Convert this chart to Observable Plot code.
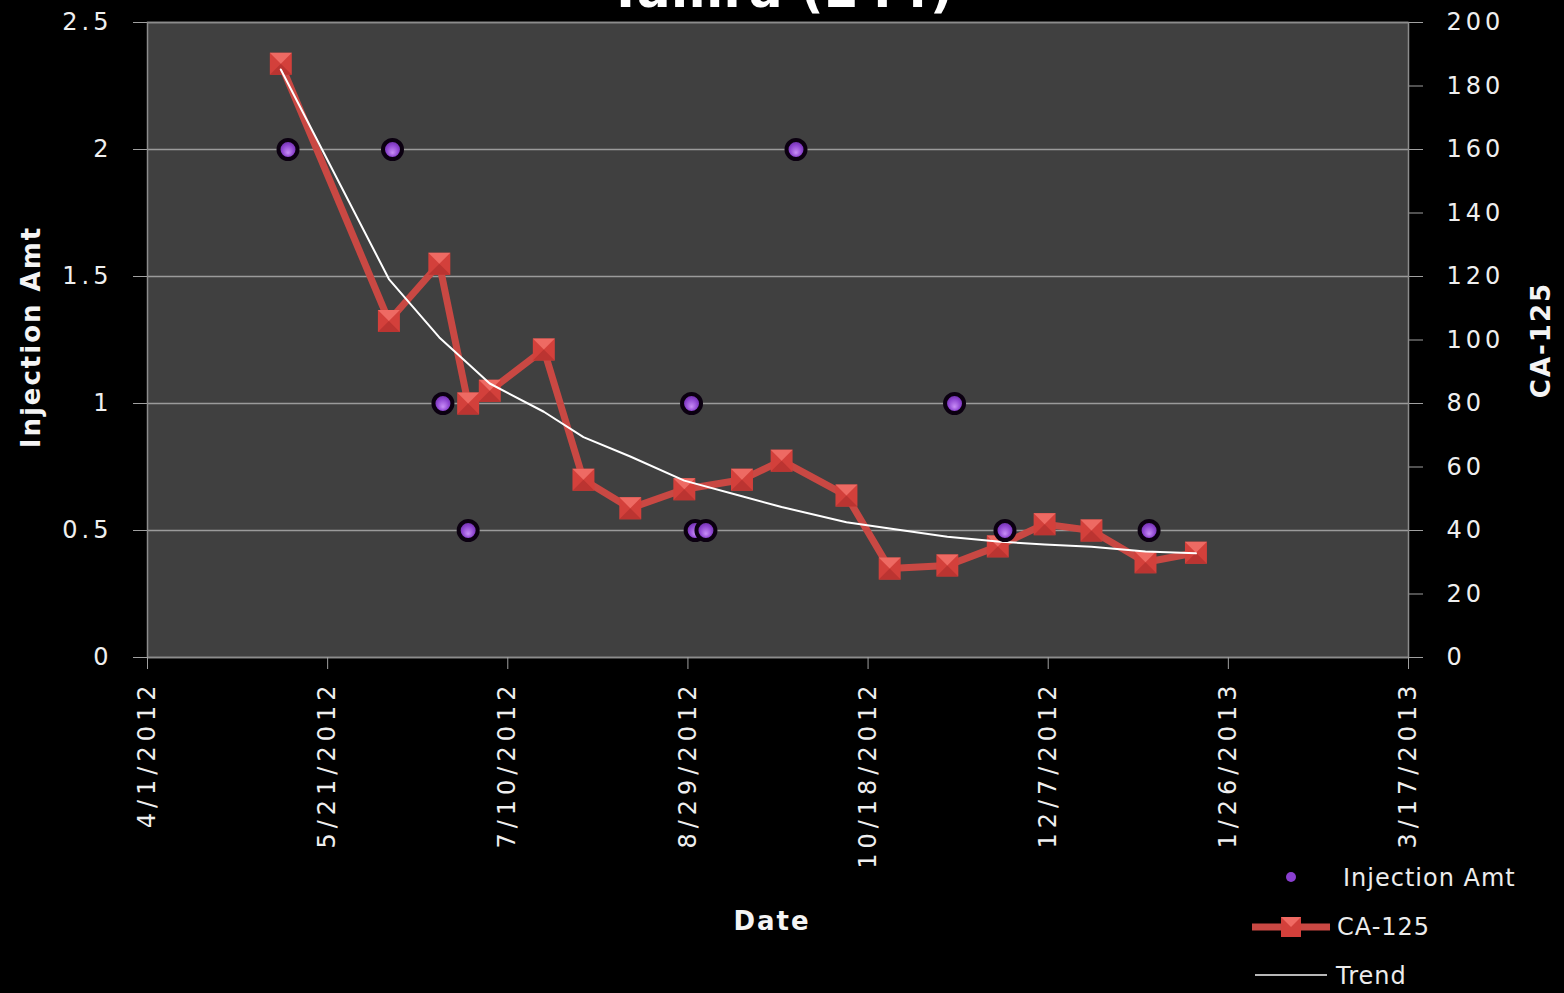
<!DOCTYPE html>
<html>
<head>
<meta charset="utf-8">
<script src="https://cdn.jsdelivr.net/npm/d3@7"></script>
<script src="https://cdn.jsdelivr.net/npm/@observablehq/plot@0.6"></script>
<style>
  body { margin: 0; background: #000; }
  #wrap {
    position: relative; width: 1564px; height: 993px; overflow: hidden;
    background: #000; color: #f2f2f2; font-family: "DejaVu Sans", sans-serif;
  }
  #chart { position: absolute; left: 0; top: 0; }
  #chart svg text { letter-spacing: 4px; }
  #chart g[aria-label="x-axis tick label"] text { letter-spacing: 5px; }
  .abs { position: absolute; white-space: nowrap; line-height: 1; }
  #title { left: 781px; top: -35px; transform: translateX(-50%); font-size: 50px; font-weight: bold; color: #fff; letter-spacing: 0.5px; }
  .axtitle { font-size: 26px; font-weight: bold; color: #f4f4f4; letter-spacing: 2px; }
  #ytitleL { left: 31px; top: 337px; transform: translate(-50%, -50%) rotate(-90deg); }
  #ytitleR { left: 1541px; top: 340px; transform: translate(-50%, -50%) rotate(-90deg); }
  #xtitle { left: 772px; top: 921px; transform: translate(-50%, -50%); }
  .legtext { font-size: 24px; color: #ececec; letter-spacing: 1px; transform: translateY(-50%); }
  .legicon { position: absolute; overflow: visible; }
</style>
</head>
<body>
<div id="wrap">
  <div id="chart"></div>
  <div id="title" class="abs">Tamra (244)</div>
  <div id="ytitleL" class="abs axtitle">Injection Amt</div>
  <div id="ytitleR" class="abs axtitle">CA-125</div>
  <div id="xtitle" class="abs axtitle">Date</div>

  <svg class="legicon" style="left:1281px;top:867px" width="20" height="20">
    <circle cx="10" cy="10" r="5" fill="#8a3fd0"></circle>
  </svg>
  <div class="abs legtext" style="left:1343px;top:878px">Injection Amt</div>

  <svg class="legicon" style="left:1252px;top:916px" width="78" height="22">
    <line x1="0" x2="78" y1="11" y2="11" stroke="#c94843" stroke-width="7"></line>
    <rect x="29" y="1" width="20" height="20" fill="#d3403b"></rect>
    <path d="M29,1 L49,1 L39,11 Z" fill="#f06a63"></path>
  </svg>
  <div class="abs legtext" style="left:1337px;top:927px">CA-125</div>

  <svg class="legicon" style="left:1255px;top:965px" width="72" height="20">
    <line x1="0" x2="72" y1="10" y2="10" stroke="#f4f4f4" stroke-width="1.5"></line>
  </svg>
  <div class="abs legtext" style="left:1336px;top:976px">Trend</div>
</div>

<script>
// CA-125 measurements with the fitted trend evaluated on the same dates
const caDates = [
  "2012-05-08", "2012-06-07", "2012-06-21", "2012-06-29", "2012-07-05",
  "2012-07-20", "2012-07-31", "2012-08-13", "2012-08-28", "2012-09-13",
  "2012-09-24", "2012-10-12", "2012-10-24", "2012-11-09", "2012-11-23",
  "2012-12-06", "2012-12-19", "2013-01-03", "2013-01-17"
];
const caValues = [187, 106, 124, 80, 84, 97, 56, 47, 53, 56, 62, 51, 28, 29, 35, 42, 40, 30, 33];
const trendValues = [185.2, 119.2, 100.8, 92.5, 86.3, 77.4, 69.4, 63.3, 55.7, 50.8, 47.4, 42.6, 40.6, 38.0, 36.5, 35.6, 34.9, 33.4, 32.8];

// Injection amounts
const injDates = [
  "2012-05-10", "2012-06-08", "2012-06-22", "2012-06-29", "2012-08-30",
  "2012-08-31", "2012-09-03", "2012-09-28", "2012-11-11", "2012-11-25", "2013-01-04"
];
const injValues = [2, 2, 1, 0.5, 1, 0.5, 0.5, 2, 1, 0.5, 0.5];

// Axis ticks
const xTickDates = ["2012-04-01", "2012-05-21", "2012-07-10", "2012-08-29", "2012-10-18", "2012-12-07", "2013-01-26", "2013-03-17"];
const leftTicks = [0, 0.5, 1, 1.5, 2, 2.5];
const rightTicks = [0, 20, 40, 60, 80, 100, 120, 140, 160, 180, 200];

// The right axis (0–200) shares the plot with the left axis (0–2.5)
const CA_PER_UNIT = 200 / 2.5;

const caRows = caDates.map((d, i) => ({date: new Date(d), ca: caValues[i], trend: trendValues[i]}));
const injRows = injDates.map((d, i) => ({date: new Date(d), amt: injValues[i]}));
const xTicks = xTickDates.map(d => new Date(d));

const fmtDate = d => `${d.getUTCMonth() + 1}/${d.getUTCDate()}/${d.getUTCFullYear()}`;

// Light upper facet of the square marker, giving it a bevelled look
const bevelTop = {
  draw(context, size) {
    const h = Math.sqrt(size) / 2;
    context.moveTo(-h, -h);
    context.lineTo(h, -h);
    context.lineTo(0, 0);
    context.closePath();
  }
};
const bevelBottom = {
  draw(context, size) {
    const h = Math.sqrt(size) / 2;
    context.moveTo(-h, h);
    context.lineTo(h, h);
    context.lineTo(0, 0);
    context.closePath();
  }
};

const caY = d => d.ca / CA_PER_UNIT;
const trendY = d => d.trend / CA_PER_UNIT;

const chart = Plot.plot({
  width: 1564,
  height: 993,
  marginLeft: 147,
  marginRight: 156,
  marginTop: 22,
  marginBottom: 336,
  style: {background: "transparent", color: "#f0f0f0", fontFamily: "DejaVu Sans", fontSize: "24px"},
  x: {type: "utc", domain: [new Date("2012-04-01"), new Date("2013-03-17")]},
  y: {domain: [0, 2.5]},
  marks: [
    Plot.frame({fill: "#404040", stroke: null}),
    Plot.gridY(leftTicks, {stroke: "#9b9b9b", strokeOpacity: 1, strokeWidth: 1.5}),
    Plot.frame({stroke: "#8c8c8c", strokeWidth: 1.5}),
    Plot.axisY(leftTicks, {
      anchor: "left", tickSize: 14, tickPadding: 21, stroke: "#a0a0a0", fill: "#efefef",
      tickFormat: d => String(d), label: null
    }),
    Plot.axisY(rightTicks.map(v => v / CA_PER_UNIT), {
      anchor: "right", tickSize: 14, tickPadding: 24, stroke: "#a0a0a0", fill: "#efefef",
      tickFormat: d => String(Math.round(d * CA_PER_UNIT)), label: null
    }),
    Plot.axisX(xTicks, {
      anchor: "bottom", tickSize: 12, tickPadding: 11, tickRotate: -90, stroke: "#a0a0a0", fill: "#efefef",
      tickFormat: fmtDate, label: null
    }),
    Plot.lineY(caRows, {x: "date", y: caY, stroke: "#c94843", strokeWidth: 7, strokeLinejoin: "round"}),
    Plot.dot(caRows, {x: "date", y: caY, symbol: "square", r: 12.4, fill: "#d3403b"}),
    Plot.dot(caRows, {x: "date", y: caY, symbol: bevelBottom, r: 12.4, fill: "#bb3431"}),
    Plot.dot(caRows, {x: "date", y: caY, symbol: bevelTop, r: 12.4, fill: "#ee6a63"}),
    Plot.lineY(caRows, {x: "date", y: trendY, stroke: "#ffffff", strokeWidth: 2}),
    Plot.dot(injRows, {x: "date", y: "amt", r: 9.5, fill: "url(#injGrad)", stroke: "#0b0010", strokeWidth: 4})
  ]
});

// Sphere shading for the injection markers
const defs = document.createElementNS("http://www.w3.org/2000/svg", "defs");
defs.innerHTML = `
  <radialGradient id="injGrad" cx="0.5" cy="0.5" r="0.55" fx="0.5" fy="0.68">
    <stop offset="0%" stop-color="#c98ef7"></stop>
    <stop offset="55%" stop-color="#9047d2"></stop>
    <stop offset="100%" stop-color="#5c2196"></stop>
  </radialGradient>`;
chart.insertBefore(defs, chart.firstChild);

document.getElementById("chart").appendChild(chart);
</script>
</body>
</html>
